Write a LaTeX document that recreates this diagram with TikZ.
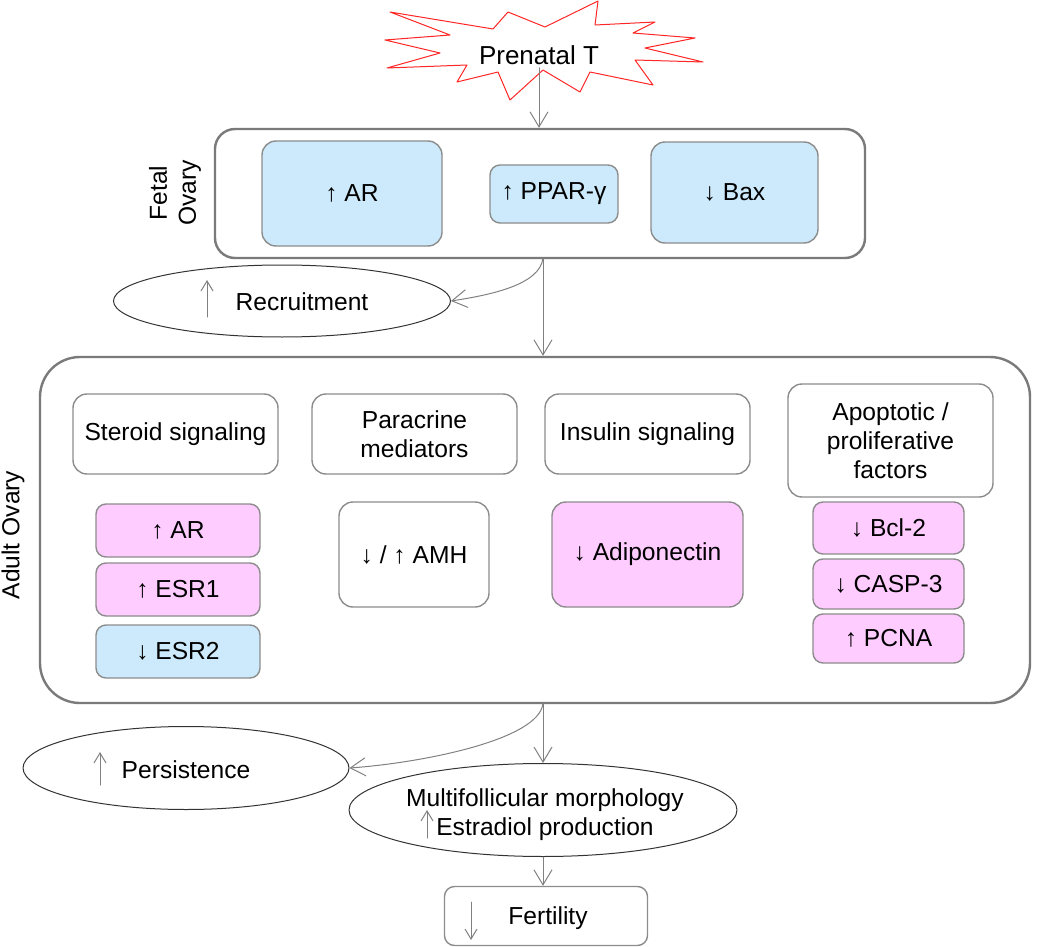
\documentclass[tikz,border=0pt]{standalone}
\usepackage{fontspec}
\setmainfont{Liberation Sans}
\usetikzlibrary{arrows.meta,shapes.geometric}

\begin{document}
\begin{tikzpicture}[>={Straight Barb[length=7.5pt,width=9pt]}, line join=round, line cap=round, x=.5pt, y=-.5pt,
	font=\fontsize{12.3}{14.5}\selectfont,
	boxsize/.style 2 args={minimum width=#1pt, minimum height=#2pt},
	outerbox/.style={draw=black!52, line width=1.2pt, rounded corners=#1},
	innerbox/.style={draw=black!45, line width=.7pt, rounded corners=7pt, align=center, inner sep=0pt},
	bluebox/.style={innerbox, fill=bluefill},
	pinkbox/.style={innerbox, fill=pinkfill},
	oval/.style={draw=black!80, line width=.5pt, ellipse, inner sep=0pt},
	conn/.style={->, draw=black!50, line width=.5pt},
	tick/.style={-{Straight Barb[length=5pt,width=6pt]}, draw=black!50, line width=.5pt}]
	\definecolor{bluefill}{HTML}{CCEAFB}
	\definecolor{pinkfill}{HTML}{FFCCFF}
	\useasboundingbox (0,0) rectangle (1050,947);
	\draw[red!85, line width=.5pt, fill=white]
	(390,12)--(493,29)--(508,12)--(545,27)--(598,1)--(595,25)--(655,22)--(633,33)--(695,38)--(645,48)--(703,62)--(635,60)
	--(653,85)--(590,72)--(580,92)--(543,70)--(510,100)--(498,72)--(457,82)--(467,65)--(387,68)--(440,53)--(385,40)--(450,35)--cycle;
	\node[inner sep=1.5pt, font=\fontsize{13}{15}\selectfont] (prenatal) at (539,55) {Prenatal T};
	\node[outerbox=10pt, boxsize={325}{64.5}] (fetal) at (540,193.5) {};
	\node[rotate=90, align=center] (fetlab) at (175,193) {Fetal\\Ovary};
	\node[bluebox, boxsize={90}{52.5}] (fAR) at (352,193.5) {↑ AR};
	\node[bluebox, boxsize={64}{29}, rounded corners=5pt] (fPPAR) at (554,194) {↑ PPAR-γ};
	\node[bluebox, boxsize={83.5}{50.5}] (fBax) at (734.5,192.5) {↓ Bax};
	\node[oval, boxsize={168.5}{36}] (recr) at (282,301) {};
	\node (recrtxt) at (302,302) {Recruitment};
	\draw[tick] (207,317)--(207,280);
	\node[outerbox=20pt, boxsize={495}{173}] (adult) at (535,530) {};
	\node[rotate=90] (adlab) at (13,535) {Adult Ovary};
	\node[innerbox, boxsize={102.5}{40}] (hSter) at (175.5,434) {Steroid signaling};
	\node[innerbox, boxsize={102.5}{40}] (hPara) at (414.5,434) {Paracrine\\mediators};
	\node[innerbox, boxsize={102.5}{40}] (hIns) at (647.5,434) {Insulin signaling};
	\node[innerbox, boxsize={102.5}{56.5}] (hApop) at (890.5,440.5) {Apoptotic /\\proliferative\\factors};
	\node[pinkbox, boxsize={82}{26.5}, rounded corners=5pt] (sAR) at (178,530.5) {↑ AR};
	\node[pinkbox, boxsize={82}{26.5}, rounded corners=5pt] (sESR1) at (178,589.5) {↑ ESR1};
	\node[bluebox, boxsize={82}{26.5}, rounded corners=5pt] (sESR2) at (178,651.5) {↓ ESR2};
	\node[innerbox, boxsize={75}{52.5}] (pAMH) at (414,554.5) {↓ / ↑ AMH};
	\node[pinkbox, boxsize={95.5}{52.5}] (iAdipo) at (647.5,554.5) {↓ Adiponectin};
	\node[pinkbox, boxsize={75.5}{26}, rounded corners=5pt] (aBcl) at (888.5,528) {↓ Bcl-2};
	\node[pinkbox, boxsize={75.5}{25}, rounded corners=5pt] (aCASP) at (888.5,584) {↓ CASP-3};
	\node[pinkbox, boxsize={75.5}{24.5}, rounded corners=5pt] (aPCNA) at (888.5,638.5) {↑ PCNA};
	\node[oval, boxsize={163}{41.5}] (pers) at (186,768) {};
	\node (perstxt) at (186,770) {Persistence};
	\draw[tick] (100,785)--(100,752);
	\node[oval, boxsize={194}{46.5}] (multi) at (543,810) {};
	\node[align=center] (multitxt) at (545,815) {Multifollicular morphology\\Estradiol production};
	\draw[tick] (427,838)--(427,810);
	\node[innerbox, boxsize={101.5}{29.5}, rounded corners=5pt] (fert) at (546,916) {};
	\node (fertxt) at (548,918) {Fertility};
	\draw[tick] (471,902)--(471,940);
	\coordinate (fout) at (543,258);
	\coordinate (aout) at (543,703);
	\draw[conn] (prenatal.south)--(prenatal.south |- fetal.north);
	\draw[conn] (fout)--(fout |- adult.north);
	\draw[conn] (fout) .. controls +(-3,27) and +(39,-6) .. (recr.east);
	\draw[conn] (aout)--(multi.north);
	\draw[conn] (aout) .. controls +(-3,37) and +(71,-5) .. (pers.east);
	\draw[conn] (multi.south)--(multi.south |- fert.north);
\end{tikzpicture}
\end{document}
